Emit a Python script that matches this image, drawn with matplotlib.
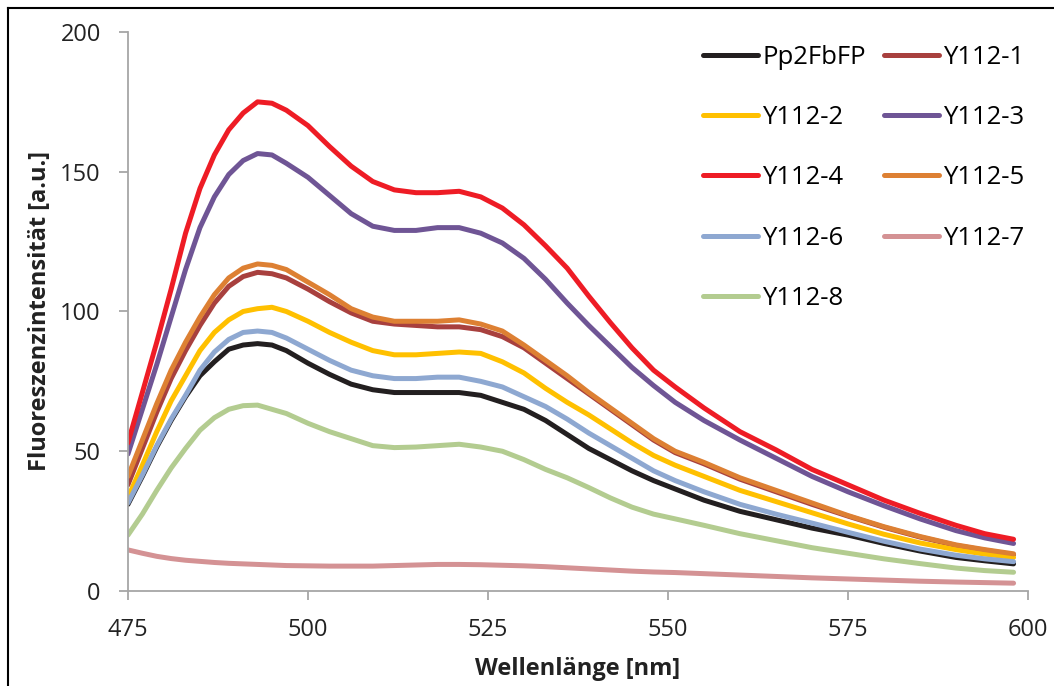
import matplotlib
matplotlib.use("Agg")
import matplotlib.pyplot as plt
from matplotlib.lines import Line2D

plt.rcParams["font.family"] = ["Open Sans", "DejaVu Sans"]

# Wellenlänge [nm]
wellenlaenge = [475, 477, 479, 481, 483, 485, 487, 489, 491, 493, 495, 497, 500,
                503, 506, 509, 512, 515, 518, 521, 524, 527, 530, 533, 536, 539,
                542, 545, 548, 551, 555, 560, 565, 570, 575, 580, 585, 590, 594, 598]

pp2fbfp = [31, 41, 51.5, 61, 69.5, 77, 82, 86.5, 88, 88.5, 88, 86, 81.5,
           77.5, 74, 72, 71, 71, 71, 71, 70, 67.5, 65, 61, 56, 51,
           47, 43, 39.5, 36.5, 32.5, 28.5, 25.5, 22.5, 20, 17, 14.3, 12, 10.8, 9.7]
y112_1 = [38, 51, 64, 76, 86, 95, 103, 109, 112.5, 114, 113.5, 112, 108,
          103.5, 99.5, 96.5, 95.5, 95, 94.5, 94.5, 93.5, 91, 87, 81.5, 76, 70.5,
          65, 59.5, 54, 49.5, 45.5, 40, 35.5, 31, 26.8, 22.8, 19.3, 16.3, 14.6, 13]
y112_2 = [33.5, 45, 57, 68, 77, 86, 92.5, 97, 100, 101, 101.5, 100, 96.5,
          92.5, 89, 86, 84.5, 84.5, 85, 85.5, 85, 82, 78, 72.5, 67.5, 63,
          58, 53, 48.5, 45, 41, 36, 32, 28, 24, 20.3, 17.2, 14.8, 13.2, 12]
y112_3 = [49, 65, 81, 98, 115, 130, 141, 149, 154, 156.5, 156, 153, 148,
          141.5, 135, 130.5, 129, 129, 130, 130, 128, 124.5, 119, 111.5, 103, 95,
          87.5, 80, 73.5, 67.5, 61, 54, 47.5, 41, 35.5, 30.5, 25.8, 21.6, 19, 17]
y112_4 = [53, 71, 89, 108, 128, 144, 156, 165, 171, 175, 174.5, 172, 166.5,
          159, 152, 146.5, 143.5, 142.5, 142.5, 143, 141, 137, 131, 123.5, 115.5, 105.5,
          96, 87, 79, 73, 65.5, 57, 50.5, 43.5, 38, 32.5, 27.8, 23.5, 20.5, 18.5]
y112_5 = [41, 54, 67, 79, 89, 98, 106, 112, 115.5, 117, 116.5, 115, 110.5,
          106, 101, 98, 96.5, 96.5, 96.5, 97, 95.5, 93, 88, 82.5, 77, 71,
          65.5, 60, 54.5, 50, 46, 40.5, 36, 31.5, 27, 23, 19.5, 16.5, 14.8, 13.3]
y112_6 = [31.5, 41.5, 52, 61.5, 70, 79, 85.5, 90, 92.5, 93, 92.5, 90.5, 86.5,
          82.5, 79, 77, 76, 76, 76.5, 76.5, 75, 73, 69.5, 66, 61.5, 56.5,
          52, 47.5, 43, 39.5, 35.5, 31, 27.5, 24.3, 21, 17.8, 15, 12.8, 11.5, 10.5]
y112_7 = [14.7, 13.5, 12.4, 11.6, 11, 10.6, 10.2, 9.9, 9.7, 9.5, 9.3, 9.1, 9,
          8.9, 8.9, 8.9, 9.1, 9.3, 9.5, 9.5, 9.4, 9.2, 9, 8.7, 8.3, 7.9,
          7.5, 7.1, 6.8, 6.6, 6.2, 5.7, 5.2, 4.7, 4.3, 3.9, 3.5, 3.2, 3, 2.8]
y112_8 = [20, 27.5, 36, 44, 51, 57.5, 62, 65, 66.3, 66.5, 65, 63.5, 60,
          57, 54.5, 52, 51.3, 51.5, 52, 52.5, 51.5, 50, 47, 43.5, 40.5, 37,
          33.3, 30, 27.5, 25.8, 23.5, 20.5, 18, 15.5, 13.5, 11.5, 9.8, 8.2, 7.3, 6.7]

namen = ["Pp2FbFP", "Y112-1", "Y112-2", "Y112-3", "Y112-4",
         "Y112-5", "Y112-6", "Y112-7", "Y112-8"]
reihen = [pp2fbfp, y112_1, y112_2, y112_3, y112_4, y112_5, y112_6, y112_7, y112_8]
farben = ["#231f20", "#a8403e", "#ffc000", "#6f5595", "#ee1c25",
          "#dd8033", "#8ea8d1", "#d49294", "#b3cc90"]

fig = plt.figure(figsize=(10.54, 6.86), dpi=100)
ax = fig.add_axes([0.1214, 0.1385, 0.8539, 0.8149])

linien = []
for name, werte, farbe in zip(namen, reihen, farben):
    l, = ax.plot(wellenlaenge, werte, color=farbe, linewidth=3.6, label=name,
                 solid_capstyle="round", solid_joinstyle="round")
    linien.append(l)

ax.set_xlim(475, 600)
ax.set_ylim(0, 200)
ax.set_xticks([475, 500, 525, 550, 575, 600])
ax.set_yticks([0, 50, 100, 150, 200])

for s in ["top", "right"]:
    ax.spines[s].set_visible(False)
for s in ["left", "bottom"]:
    ax.spines[s].set_color("#a6a6a6")
    ax.spines[s].set_linewidth(1.3)
ax.tick_params(direction="out", length=6.5, width=1.3, color="#a6a6a6",
               labelsize=17, labelcolor="#222222")
ax.tick_params(axis="x", pad=13)
ax.tick_params(axis="y", pad=13)

ax.set_xlabel("Wellenlänge [nm]", fontsize=17, fontweight="bold", color="#222222")
ax.set_ylabel("Fluoreszenzintensität [a.u.]", fontsize=17, fontweight="bold", color="#222222")
ax.xaxis.set_label_coords(0.5, -0.118)
ax.yaxis.set_label_coords(-0.084, 0.5)

# Legende zeilenweise wie im Original
reihenfolge = [0, 2, 4, 6, 8, 1, 3, 5, 7]
ax.legend([linien[i] for i in reihenfolge], [namen[i] for i in reihenfolge],
          ncol=2, frameon=False, fontsize=18.5, handlelength=2.15,
          handletextpad=0.15, columnspacing=0.7, labelspacing=1.37,
          loc="upper left", bbox_to_anchor=(703 / 1054, 1 - 45 / 686),
          bbox_transform=fig.transFigure, borderaxespad=0, borderpad=0)

# Rahmen links und oben
fig.add_artist(Line2D([8 / 1054, 8 / 1054], [0, 1 - 8 / 686], color="black",
                      linewidth=1.5, transform=fig.transFigure))
fig.add_artist(Line2D([8 / 1054, 1], [1 - 8 / 686, 1 - 8 / 686], color="black",
                      linewidth=1.5, transform=fig.transFigure))

fig.savefig("out.png", dpi=100)
